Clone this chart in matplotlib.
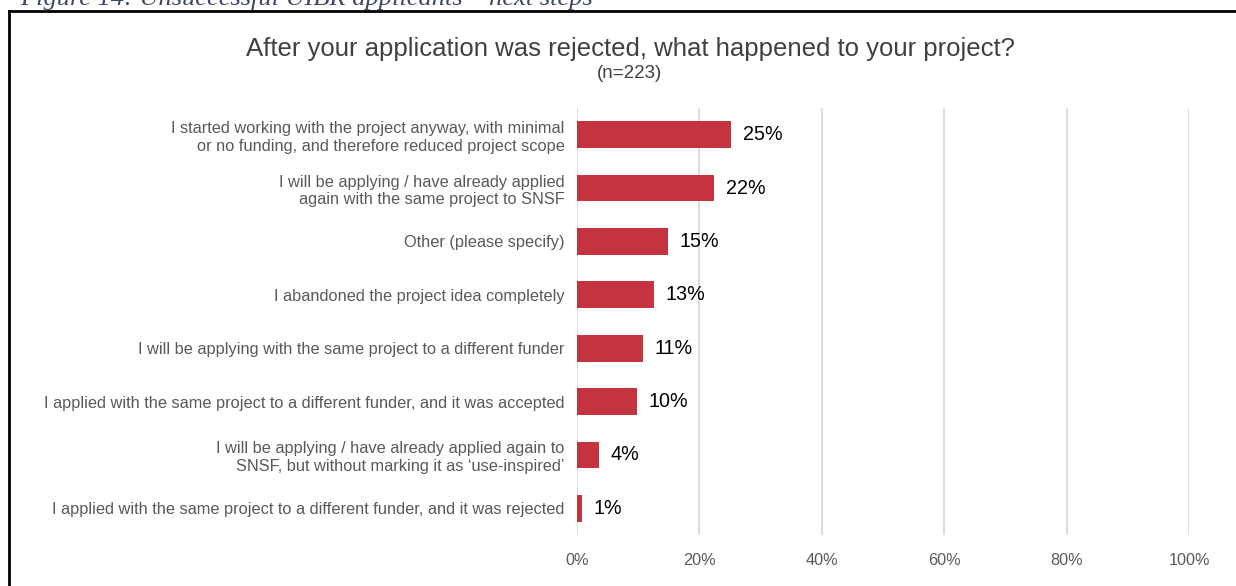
import matplotlib
matplotlib.use("Agg")
import matplotlib.pyplot as plt
from matplotlib.lines import Line2D

categories = [
    "I started working with the project anyway, with minimal\nor no funding, and therefore reduced project scope",
    "I will be applying / have already applied\nagain with the same project to SNSF",
    "Other (please specify)",
    "I abandoned the project idea completely",
    "I will be applying with the same project to a different funder",
    "I applied with the same project to a different funder, and it was accepted",
    "I will be applying / have already applied again to\nSNSF, but without marking it as \u2018use-inspired\u2019",
    "I applied with the same project to a different funder, and it was rejected",
]
values = [25.2, 22.4, 14.9, 12.6, 10.8, 9.8, 3.6, 0.8]
xticks = [0, 20, 40, 60, 80, 100]
xtick_labels = ["0%", "20%", "40%", "60%", "80%", "100%"]
title = "After your application was rejected, what happened to your project?"
subtitle = "(n=223)"
caption = "Figure 14: Unsuccessful UIBR applicants \u2013 next steps"

plt.rcParams['font.family'] = ['Liberation Sans', 'DejaVu Sans']

W, H = 1236, 586
fig = plt.figure(figsize=(W / 100, H / 100), dpi=100)
ax = fig.add_axes([577 / W, 1 - 535 / H, (1189 - 577) / W, (535 - 108) / H])

ypos = list(range(len(categories)))
ax.barh(ypos, values, height=0.5, color="#C4343F", zorder=3)
for y, v in zip(ypos, values):
    ax.text(v + 1.9, y, f"{round(v):d}%", va="center", ha="left",
            fontsize=14.2, color="#000000", zorder=4)

ax.set_xlim(0, 100)
ax.set_ylim(len(categories) - 0.5, -0.5)
ax.set_yticks(ypos)
ax.set_yticklabels(categories, fontsize=11.8, color="#595959")
ax.set_xticks(xticks)
ax.set_xticklabels(xtick_labels, fontsize=11.7, color="#595959")
ax.tick_params(axis="both", length=0)
ax.tick_params(axis="y", pad=9)
ax.tick_params(axis="x", pad=13)
ax.grid(axis="x", color="#D9D9D9", linewidth=1.3, zorder=0)
for s in ax.spines.values():
    s.set_visible(False)

fig.text(630 / W, 1 - 49 / H, title, ha="center", va="center", fontsize=18.5, color="#404040")
fig.text(630 / W, 1 - 73 / H, subtitle, ha="center", va="center", fontsize=13.5, color="#404040")

fig.text(20 / W, 1 - 5 / H, caption, ha="left", va="baseline", fontsize=19,
         family=["Liberation Serif", "DejaVu Serif"], style="italic", color="#3A4766")

fig.add_artist(Line2D([9 / W, 1.0], [1 - 11 / H, 1 - 11 / H], transform=fig.transFigure,
                      color="black", linewidth=2))
fig.add_artist(Line2D([9 / W, 9 / W], [1 - 11 / H, 0], transform=fig.transFigure,
                      color="black", linewidth=2))

fig.savefig("out.png", dpi=100)
